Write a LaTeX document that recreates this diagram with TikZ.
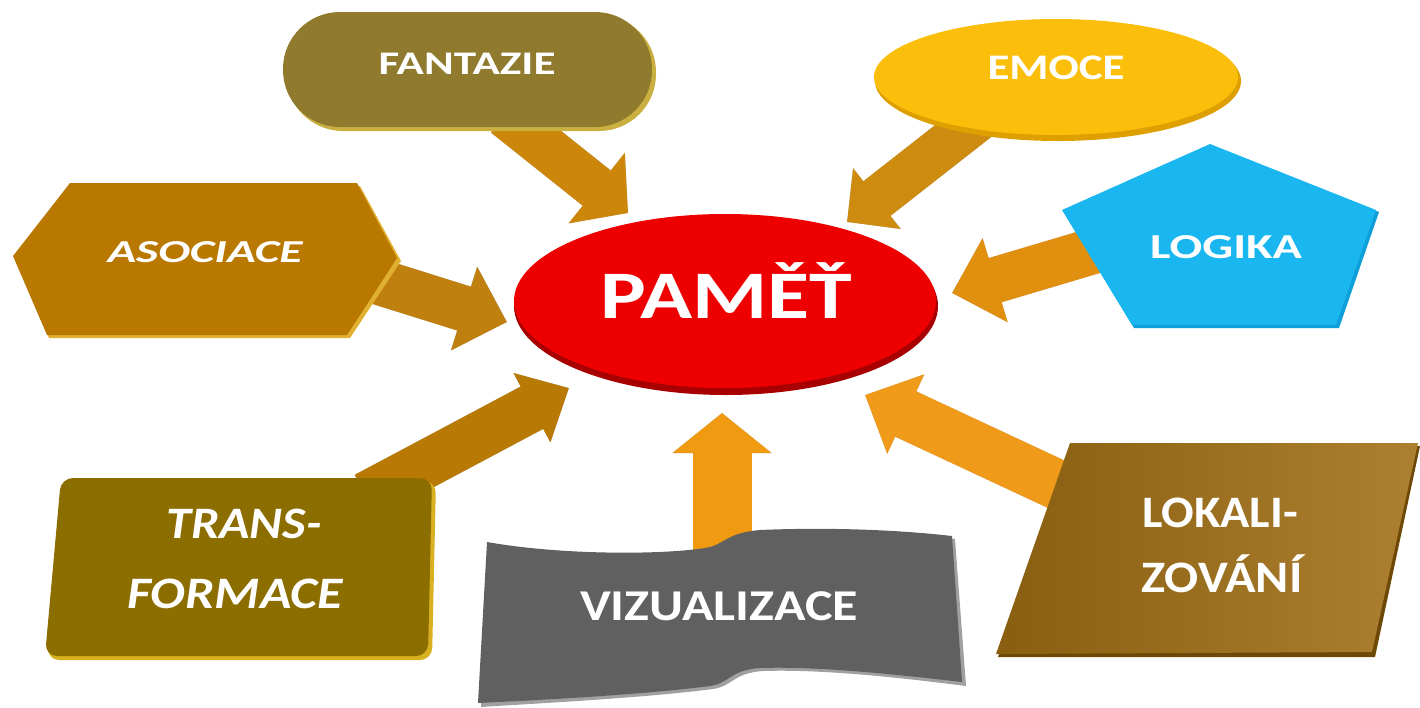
\documentclass[tikz,border=0pt]{standalone}
\usepackage{fontspec}
\setmainfont{Carlito}
\usepackage{graphicx}
\usetikzlibrary{arrows.meta}
\definecolor{cRed}{HTML}{EE0000}
\definecolor{cRedRim}{HTML}{A80000}
\definecolor{cFan}{HTML}{8F7A2D}
\definecolor{cFanRim}{HTML}{C9B040}
\definecolor{cEmo}{HTML}{FBBF0B}
\definecolor{cEmoRim}{HTML}{DDA000}
\definecolor{cLog}{HTML}{1AB6EF}
\definecolor{cLogRim}{HTML}{0E9ED8}
\definecolor{cAso}{HTML}{B97800}
\definecolor{cAsoRim}{HTML}{E0B030}
\definecolor{cTra}{HTML}{8C6D00}
\definecolor{cTraRim}{HTML}{D8B020}
\definecolor{cLokL}{HTML}{8A5E10}
\definecolor{cLokR}{HTML}{AC8030}
\definecolor{cLokRim}{HTML}{6E4806}
\definecolor{cViz}{HTML}{606060}
\definecolor{cVizRim}{HTML}{A0A0A0}
\definecolor{aFan}{HTML}{CC860A}
\definecolor{aAso}{HTML}{C08010}
\definecolor{aTra}{HTML}{B87A05}
\definecolor{aViz}{HTML}{F09A12}
\definecolor{aLok}{HTML}{F09A1A}
\definecolor{aLog}{HTML}{E0900E}
\definecolor{aEmo}{HTML}{CD8C10}
\newcommand\fitw[3]{\resizebox{#1pt}{\height}{\fontsize{#2pt}{#2pt}\selectfont #3}}
\tikzset{
  lab/.style={text=white, inner sep=0pt, anchor=base, font=\bfseries},
  ilab/.style={text=white, inner sep=0pt, anchor=base, font=\bfseries\itshape},
  blk/.style n args={4}{draw=#4, line width=#1pt, -{Triangle[width=#2pt,length=#3pt]}},
  blkshadow/.style n args={3}{draw=black!25, line width=#1pt, -{Triangle[width=#2pt,length=#3pt]}, shift={(2,3)}}
}
\begin{document}
\begin{tikzpicture}[x=1pt,y=-1pt]
\useasboundingbox (0,0) rectangle (1420,707);
% arrow end points
\coordinate (fanT) at (505,115);  \coordinate (fanH) at (628,213);
\coordinate (asoT) at (360,276);  \coordinate (asoH) at (507,322);
\coordinate (traT) at (366,496);  \coordinate (traH) at (569,388);
\coordinate (vizT) at (722,570);  \coordinate (vizH) at (722,413);
\coordinate (lokT) at (1090,500); \coordinate (lokH) at (865,395);
\coordinate (logT) at (1110,246); \coordinate (logH) at (952,293);
\coordinate (emoT) at (990,110);  \coordinate (emoH) at (847,222);
% arrows (shadow, then body)
\draw[blkshadow={45}{88}{40}] (fanT) -- (fanH);
\draw[blk={45}{88}{40}{aFan}] (fanT) -- (fanH);
\draw[blkshadow={46}{85}{45}] (asoT) -- (asoH);
\draw[blk={46}{85}{45}{aAso}] (asoT) -- (asoH);
\draw[blkshadow={48}{76}{42}] (traT) -- (traH);
\draw[blk={48}{76}{42}{aTra}] (traT) -- (traH);
\draw[blkshadow={59}{97}{40}] (vizT) -- (vizH);
\draw[blk={59}{97}{40}{aViz}] (vizT) -- (vizH);
\draw[blkshadow={50}{85}{45}] (lokT) -- (lokH);
\draw[blk={50}{85}{45}{aLok}] (lokT) -- (lokH);
\draw[blkshadow={46}{85}{45}] (logT) -- (logH);
\draw[blk={46}{85}{45}{aLog}] (logT) -- (logH);
\draw[blkshadow={44}{75}{38}] (emoT) -- (emoH);
\draw[blk={44}{75}{38}{aEmo}] (emoT) -- (emoH);
% central ellipse
\fill[cRedRim] (726,306) ellipse [x radius=212, y radius=89];
\fill[cRed] (725,301) ellipse [x radius=211, y radius=87];
% FANTAZIE stadium
\fill[cFanRim, rounded corners=57pt] (286,15) rectangle (656,131);
\fill[cFan, rounded corners=57pt] (283,12) rectangle (652,127);
% EMOCE ellipse
\fill[cEmoRim] (1058,81) ellipse [x radius=183, y radius=60];
\fill[cEmo] (1056,77) ellipse [x radius=182, y radius=58];
% LOGIKA pentagon
\fill[cLogRim] (1212,146) -- (1379,212) -- (1339,328) -- (1134,328) -- (1064,212) -- cycle;
\fill[cLog] (1210,144) -- (1376,210) -- (1336,325) -- (1132,325) -- (1062,210) -- cycle;
% ASOCIACE hexagon
\fill[cAsoRim] (15,259) -- (72,186) -- (360,186) -- (401,261) -- (350,338) -- (49,338) -- cycle;
\fill[cAso] (13,256) -- (70,183) -- (357,183) -- (397,258) -- (347,335) -- (47,335) -- cycle;
% TRANSFORMACE box
\fill[cTraRim, rounded corners=12pt] (63,481) -- (436,481) -- (432,660) -- (47,660) -- cycle;
\fill[cTra, rounded corners=12pt] (61,478) -- (432,478) -- (428,656) -- (45,656) -- cycle;
% LOKALIZOVANI parallelogram
\fill[cLokRim] (1072,446) -- (1420,446) -- (1375,657) -- (998,657) -- cycle;
\shade[left color=cLokL, right color=cLokR] (1070,443) -- (1418,443) -- (1372,652) -- (996,654) -- cycle;
% VIZUALIZACE wave
\fill[cVizRim] (490,545) .. controls (560,558) and (660,558) .. (708,551)
  .. controls (728,548) and (728,536) .. (763,533)
  .. controls (833,530) and (903,533) .. (955,539) -- (966,686)
  .. controls (903,678) and (823,669) .. (763,671)
  .. controls (733,673) and (733,686) .. (713,689)
  .. controls (643,698) and (543,703) .. (481,707) -- cycle;
\fill[cViz] (487,542) .. controls (560,555) and (660,555) .. (705,548)
  .. controls (725,545) and (725,533) .. (760,530)
  .. controls (830,527) and (900,530) .. (952,536) -- (962,682)
  .. controls (900,675) and (820,666) .. (760,668)
  .. controls (730,670) and (730,683) .. (710,686)
  .. controls (640,695) and (540,700) .. (478,703) -- cycle;
% labels
\node[lab] (pam) at (726,318) {\fitw{252}{68}{PAMĚŤ}};
\node[lab] (fan) at (467,74) {\fitw{177}{33}{FANTAZIE}};
\node[lab] (emo) at (1056,79) {\fitw{137}{36}{EMOCE}};
\node[lab] (log) at (1226,258) {\fitw{152}{35}{LOGIKA}};
\node[ilab] (aso) at (205,262) {\fitw{195}{32}{ASOCIACE}};
\node[ilab] (tra1) at (244,538) {\fitw{155}{45}{TRANS-}};
\node[ilab] (tra2) at (235,608) {\fitw{215}{45}{FORMACE}};
\node[lab] (lok1) at (1220,527) {\fitw{156}{45}{LOKALI-}};
\node[lab] (lok2) at (1222,592) {\fitw{161}{45}{ZOVÁNÍ}};
\node[lab] (viz) at (719,620) {\fitw{278}{44}{VIZUALIZACE}};
\end{tikzpicture}
\end{document}
